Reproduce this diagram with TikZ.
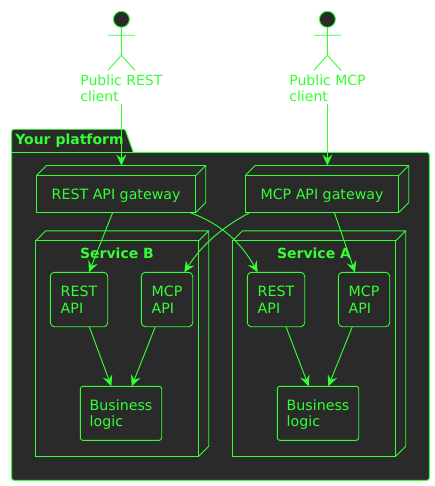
\documentclass[tikz,border=0pt]{standalone}
\usepackage{fontspec}
\setmainfont{DejaVu Sans}
\usetikzlibrary{arrows.meta,calc}
\definecolor{neon}{HTML}{33FF33}
\definecolor{panel}{HTML}{2A2A2A}
\tikzset{
  ink/.style={draw=neon,line width=0.9pt},
  wire/.style={draw=neon,line width=0.95pt,-{Stealth[length=11pt,width=10pt,inset=4pt]}},
  txt/.style={text=neon,font=\fontsize{14}{16.5}\selectfont,inner sep=0pt,outer sep=0pt},
  head/.style={text=neon,font=\fontsize{14}{16.5}\selectfont\bfseries,inner sep=0pt,outer sep=0pt,anchor=base},
  face/.style={ink,rectangle,inner sep=0pt,outer sep=0pt,text=neon,font=\fontsize{14.2}{16.5}\selectfont,align=center},
  apibox/.style={face,align=left,rounded corners=4pt,minimum width=57.4pt,minimum height=54.4pt},
  mcpbox/.style={apibox,minimum width=51.4pt},
  logicbox/.style={face,align=left,rounded corners=2.5pt,minimum width=81.4pt,minimum height=54pt},
}
\newcommand{\lift}{\rule{0pt}{13.3pt}}
\newcommand{\cubeback}[1]{%
  \draw[ink] (#1.north west) -- ([xshift=10pt,yshift=10pt]#1.north west)
     -- ([xshift=10pt,yshift=10pt]#1.north east)
     -- ([xshift=10pt,yshift=10pt]#1.south east) -- (#1.south east)
     (#1.north east) -- ([xshift=10pt,yshift=10pt]#1.north east);}
\newcommand{\stick}[1]{%
  \draw[ink,fill=panel] (#1) circle[radius=8pt];
  \draw[ink] ([yshift=-8pt]#1) -- ([yshift=-36pt]#1)
    ([xshift=-13.5pt,yshift=-16pt]#1) -- ([xshift=13.5pt,yshift=-16pt]#1)
    ([xshift=-13.5pt,yshift=-51pt]#1) -- ([yshift=-36pt]#1) -- ([xshift=13.5pt,yshift=-51pt]#1);}
\begin{document}
\begin{tikzpicture}[x=1pt,y=-1pt]
\useasboundingbox[fill=white] (0,0) rectangle (435,486);
% package
\draw[ink,fill=panel] (11.6,152.4) -- (11.6,131.8) arc[start angle=180,end angle=90,radius=2.5pt]
  -- (124,129.3) -- (125.5,130.5) -- (133.3,152.4) -- (426.8,152.4) arc[start angle=90,end angle=0,radius=2.5pt]
  -- (429.3,477.8) arc[start angle=0,end angle=-90,radius=2.5pt]
  -- (14.1,480.3) arc[start angle=-90,end angle=-180,radius=2.5pt] -- cycle;
\draw[ink] (11.6,152.4) -- (133.3,152.4);
\node[head,anchor=base west] (pkglabel) at (15.3,145) {Your platform};
% actors
\coordinate (actrest) at (121.4,19.3);
\coordinate (actmcp) at (327.4,19.3);
\stick{actrest}
\stick{actmcp}
\node[txt,align=left,anchor=north west] (lblrest) at (80.4,74.4) {Public REST\\client};
\node[txt,align=left,anchor=north west] (lblmcp) at (289.4,74.4) {Public MCP\\client};
% gateways
\node[face,minimum width=159.2pt,minimum height=37pt] (gwrest) at (116.1,194) {\lift REST API gateway};
\node[face,minimum width=153.4pt,minimum height=37pt] (gwmcp) at (322,194) {\lift MCP API gateway};
\cubeback{gwrest}
\cubeback{gwmcp}
% services
\node[ink,rectangle,outer sep=0pt,inner sep=0pt,minimum width=163.2pt,minimum height=215.4pt] (svcb) at (117.1,348.6) {};
\node[ink,rectangle,outer sep=0pt,inner sep=0pt,minimum width=163.4pt,minimum height=215.4pt] (svca) at (314,348.6) {};
\cubeback{svcb}
\cubeback{svca}
\node[head] (titleb) at (117,258.2) {Service B};
\node[head] (titlea) at (314,258.2) {Service A};
% inner boxes
\node[apibox] (restb) at (79,299.5) {REST\\API};
\node[mcpbox] (mcpb) at (167,299.5) {MCP\\API};
\node[apibox] (resta) at (276,299.5) {REST\\API};
\node[mcpbox] (mcpa) at (364,299.5) {MCP\\API};
\node[logicbox] (logb) at (121,413.3) {\lift Business\\logic};
\node[logicbox] (loga) at (318,413.3) {\lift Business\\logic};
% connectors
\draw[wire] (lblrest.south -| actrest) ++(0pt,-2pt) -- ([yshift=10pt]gwrest.north -| actrest);
\draw[wire] (lblmcp.south -| actmcp) ++(0pt,-2pt) -- ([yshift=10pt]gwmcp.north -| actmcp);
\draw[wire] ([xshift=76.2pt]gwrest.south west) -- ([xshift=38.7pt]restb.north west);
\draw[wire] ([xshift=153.4pt]gwrest.south west) .. controls ([xshift=175pt,yshift=-8pt]gwrest.south west) and ([xshift=200pt,yshift=-22pt]gwrest.south west) .. ([xshift=10.4pt]resta.north west);
\draw[wire] ([xshift=4.7pt]gwmcp.south west) .. controls ([xshift=-20pt,yshift=-13pt]gwmcp.south west) and ([xshift=-42pt,yshift=-30pt]gwmcp.south west) .. ([xshift=43pt]mcpb.north west);
\draw[wire] ([xshift=89pt]gwmcp.south west) -- ([xshift=16.7pt]mcpa.north west);
\draw[wire] ([xshift=39pt]restb.south west) -- ([xshift=31pt]logb.north west);
\draw[wire] ([xshift=14pt]mcpb.south west) -- ([xshift=51.4pt]logb.north west);
\draw[wire] ([xshift=38.7pt]resta.south west) -- ([xshift=31.4pt]loga.north west);
\draw[wire] ([xshift=14pt]mcpa.south west) -- ([xshift=51pt]loga.north west);
\end{tikzpicture}
\end{document}
